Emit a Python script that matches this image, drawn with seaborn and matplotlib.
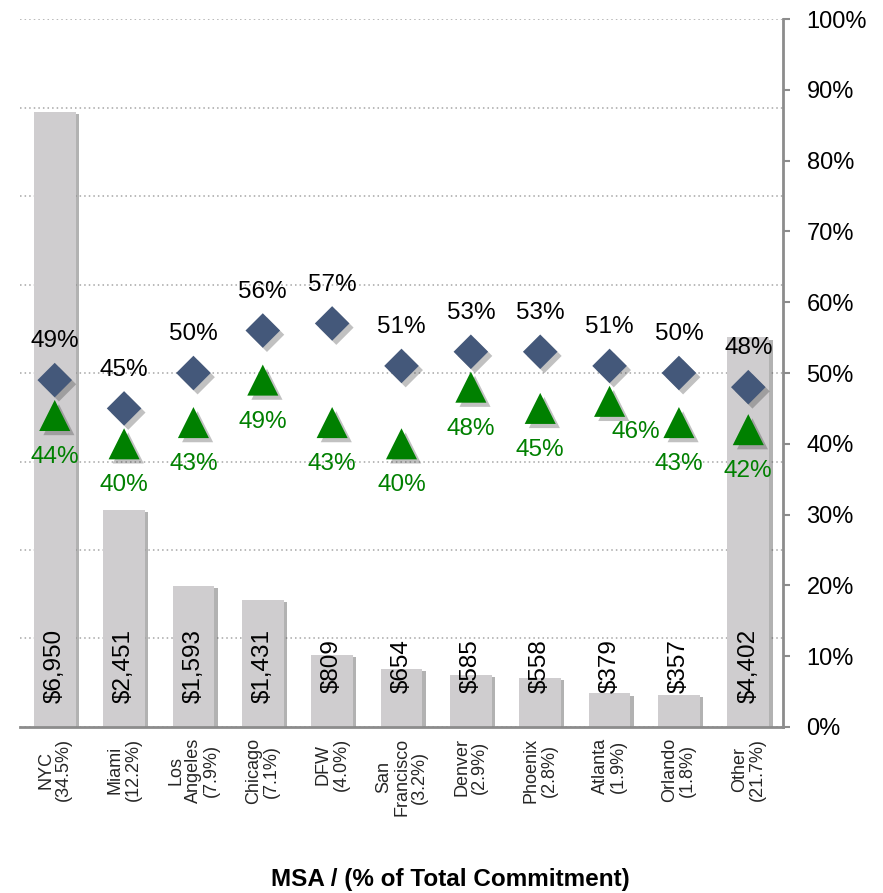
import numpy as np
import pandas as pd
import matplotlib
matplotlib.use("Agg")
import matplotlib.pyplot as plt
import matplotlib.patheffects as pe
from matplotlib.ticker import MultipleLocator, FixedLocator, PercentFormatter
import seaborn as sns

# Commitment by MSA ($ millions) with share of total
categories = ["NYC\n(34.5%)", "Miami\n(12.2%)", "Los\nAngeles\n(7.9%)", "Chicago\n(7.1%)",
              "DFW\n(4.0%)", "San\nFrancisco\n(3.2%)", "Denver\n(2.9%)", "Phoenix\n(2.8%)",
              "Atlanta\n(1.9%)", "Orlando\n(1.8%)", "Other\n(21.7%)"]
commitment = [6950, 2451, 1593, 1431, 809, 654, 585, 558, 379, 357, 4402]
diamond_pct = [49, 45, 50, 56, 57, 51, 53, 53, 51, 50, 48]
triangle_pct = [44, 40, 43, 49, 43, 40, 48, 45, 46, 43, 42]

sns.set_theme(style="white")
plt.rcParams["font.family"] = ["Liberation Sans", "DejaVu Sans"]

df = pd.DataFrame({
    "msa": categories,
    "commitment": commitment,
    "diamond": np.array(diamond_pct) / 100.0,
    "triangle": np.array(triangle_pct) / 100.0,
})
df["pos"] = np.arange(len(df))

BAR = "#CFCDCF"
NAVY = "#44587A"
GREEN = "#008000"
AXIS_GRAY = "#8C8C8C"

fig = plt.figure(figsize=(8.83, 8.93), dpi=100)
ax = fig.add_axes([0.0227, 0.1859, 0.864, 0.7928])

# Bars on the (hidden) dollar axis
sns.barplot(data=df, x="pos", y="commitment", color=BAR, width=0.6,
            saturation=1, ax=ax, order=list(df["pos"]), native_scale=True)
for p in ax.patches:
    p.set_edgecolor("none")
    p.set_path_effects([pe.SimplePatchShadow(offset=(2.5, -1.5), shadow_rgbFace="#555555", alpha=0.45),
                        pe.Normal()])

ax.set_xlim(-0.5, len(df) - 0.5)
ax.set_ylim(0, 8000)
ax.yaxis.set_major_locator(MultipleLocator(1000))
ax.grid(axis="y", color="#A6A6A6", linestyle=(0, (1, 2)), linewidth=1.1)
ax.grid(axis="x", visible=False)
ax.set_axisbelow(True)
ax.set_ylabel("")
ax.set_xlabel("")

ax.set_xticks(df["pos"])
ax.set_xticklabels(df["msa"], rotation=90, ha="center", va="top",
                   multialignment="center", fontsize=13, linespacing=1.05)
ax.xaxis.set_minor_locator(FixedLocator(np.arange(-0.5, len(df), 1.0)))
ax.tick_params(axis="x", which="major", length=0, pad=8)
ax.tick_params(axis="x", which="minor", length=6, width=1.5, color=AXIS_GRAY, direction="out")

for side in ["top", "left", "right"]:
    ax.spines[side].set_visible(False)
ax.spines["bottom"].set_color(AXIS_GRAY)
ax.spines["bottom"].set_linewidth(2)

for x, v in zip(df["pos"], df["commitment"]):
    ax.text(x, 690, f"${v:,}", rotation=90, ha="center", va="center",
            fontsize=17.5, color="black")

# Percentage series on the right axis
ax2 = ax.twinx()
# twinx moves the dollar axis ticks back to the left; hide them again
ax.tick_params(axis="y", which="both", left=False, right=False,
               labelleft=False, labelright=False)

shadow = [pe.SimplePatchShadow(offset=(3, -3), shadow_rgbFace="#333333", alpha=0.3), pe.Normal()]
sns.scatterplot(data=df, x="pos", y="diamond", marker="D", s=310, color=NAVY,
                edgecolor="none", ax=ax2, zorder=3)
sns.scatterplot(data=df, x="pos", y="triangle", marker="^", s=500, color=GREEN,
                edgecolor="none", ax=ax2, zorder=3)
for coll in ax2.collections:
    coll.set_path_effects(shadow)

for x, v in zip(df["pos"], diamond_pct):
    ax2.annotate(f"{v}%", (x, v / 100.0), xytext=(0, 28), textcoords="offset points",
                 ha="center", va="center", fontsize=17.5, color="black")
for x, v in zip(df["pos"], triangle_pct):
    dx, dy = (0, -30)
    if categories[x].startswith("Atlanta"):
        dx, dy = (19, -22)
    ax2.annotate(f"{v}%", (x, v / 100.0), xytext=(dx, dy), textcoords="offset points",
                 ha="center", va="center", fontsize=17.5, color=GREEN)

ax2.set_ylim(0, 1)
ax2.yaxis.set_major_locator(MultipleLocator(0.1))
ax2.yaxis.set_major_formatter(PercentFormatter(1.0, decimals=0))
ax2.tick_params(axis="y", left=False, right=True, length=5, width=1.5, color=AXIS_GRAY,
                labelsize=17, pad=12, labelcolor="black", direction="out")
ax2.set_ylabel("")
ax2.set_xlabel("")
ax2.grid(False)
for side in ["top", "left", "bottom"]:
    ax2.spines[side].set_visible(False)
ax2.spines["right"].set_color(AXIS_GRAY)
ax2.spines["right"].set_linewidth(2)
ax2.set_xlim(-0.5, len(df) - 0.5)

fig.text(0.51, 0.015, "MSA / (% of Total Commitment)", ha="center", va="center",
         fontsize=17.5, fontweight="bold", color="black")

fig.savefig("out.png", dpi=100)
